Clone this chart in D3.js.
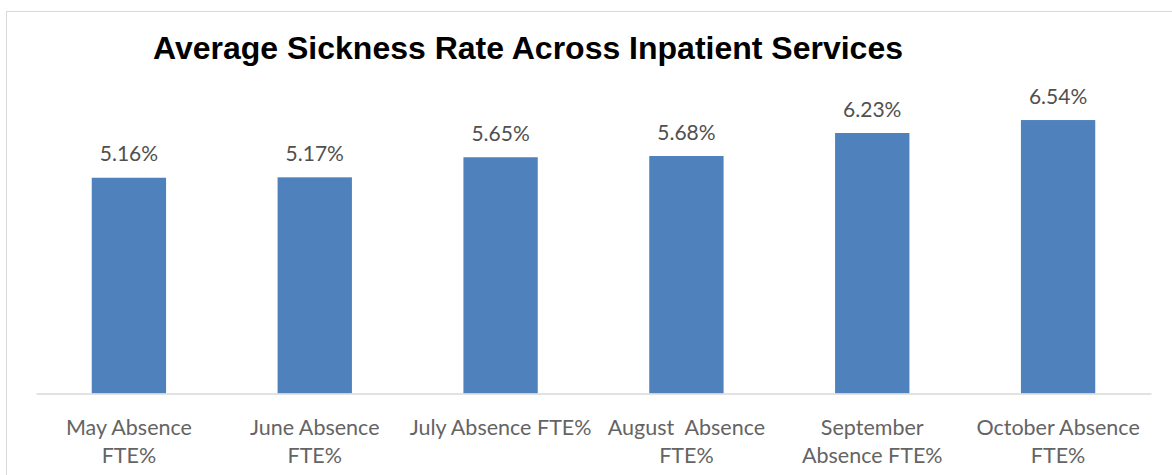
<!DOCTYPE html>
<html>
<head>
<meta charset="utf-8">
<script src="https://cdn.jsdelivr.net/npm/d3@7"></script>
<style>
  html, body { margin: 0; padding: 0; background: #fff; }
  svg { display: block; }
</style>
</head>
<body>
<svg id="chart" width="1172" height="475"></svg>
<script>
// Monthly average sickness absence (FTE %) across inpatient services
const categories = [
  "May Absence FTE%",
  "June Absence FTE%",
  "July Absence FTE%",
  "August  Absence FTE%",
  "September Absence FTE%",
  "October Absence FTE%"
];
// Category labels as they wrap under each bar
const tickLines = [
  ["May Absence", "FTE%"],
  ["June Absence", "FTE%"],
  ["July Absence FTE%"],
  ["August  Absence", "FTE%"],
  ["September", "Absence FTE%"],
  ["October Absence", "FTE%"]
];
const values = [5.16, 5.17, 5.65, 5.68, 6.23, 6.54];
const chartTitle = "Average Sickness Rate Across Inpatient Services";

const svg = d3.select("#chart");
const W = 1172, H = 475;

// Outer chart frame
svg.append("rect")
  .attr("x", 6.5).attr("y", 11.5)
  .attr("width", W + 10).attr("height", H + 10)
  .attr("fill", "#fff")
  .attr("stroke", "#d9d9d9").attr("stroke-width", 1);

const plot = { left: 36, right: 1151, top: 59, bottom: 393.5 };

const x = d3.scaleBand()
  .domain(categories)
  .range([plot.left, plot.right])
  .paddingInner(0.6)
  .paddingOuter(0.3);

const y = d3.scaleLinear()
  .domain([0, 8])
  .range([plot.bottom, plot.top]);

// Title
const title = svg.append("text")
  .attr("x", 153).attr("y", 59)
  .attr("font-family", "Liberation Sans, Arial, sans-serif")
  .attr("font-weight", "bold")
  .attr("font-size", 29)
  .attr("fill", "#000")
  .text(chartTitle);
const tw = title.node().getComputedTextLength();
title.attr("font-size", 29 * 750 / tw);

// Bars
svg.append("g")
  .selectAll("rect")
  .data(values)
  .join("rect")
  .attr("x", (d, i) => x(categories[i]))
  .attr("width", x.bandwidth())
  .attr("y", d => y(d))
  .attr("height", d => y(0) - y(d))
  .attr("fill", "#4f81bd");

// Value labels
svg.append("g")
  .selectAll("text")
  .data(values)
  .join("text")
  .attr("x", (d, i) => x(categories[i]) + x.bandwidth() / 2)
  .attr("y", d => y(d) - 16.5)
  .attr("text-anchor", "middle")
  .attr("font-family", "Lato, sans-serif")
  .attr("font-size", 21)
  .attr("fill", "#505050")
  .text(d => d.toFixed(2) + "%");

// Category axis
const axis = svg.append("g")
  .attr("transform", `translate(0,${plot.bottom})`)
  .call(d3.axisBottom(x).tickSize(0).tickFormat(""));
axis.select(".domain").attr("stroke", "#d9d9d9").attr("stroke-width", 1.5);

const labels = svg.append("g")
  .attr("font-family", "Lato, sans-serif")
  .attr("font-size", 21.5)
  .attr("fill", "#646464")
  .attr("text-anchor", "middle");

categories.forEach((c, i) => {
  const t = labels.append("text")
    .attr("x", x(c) + x.bandwidth() / 2)
    .attr("y", 435)
    .style("white-space", "pre")
    .attr("xml:space", "preserve");
  tickLines[i].forEach((line, j) => {
    t.append("tspan")
      .attr("x", x(c) + x.bandwidth() / 2)
      .attr("dy", j === 0 ? 0 : 27.5)
      .text(line);
  });
});
</script>
</body>
</html>
